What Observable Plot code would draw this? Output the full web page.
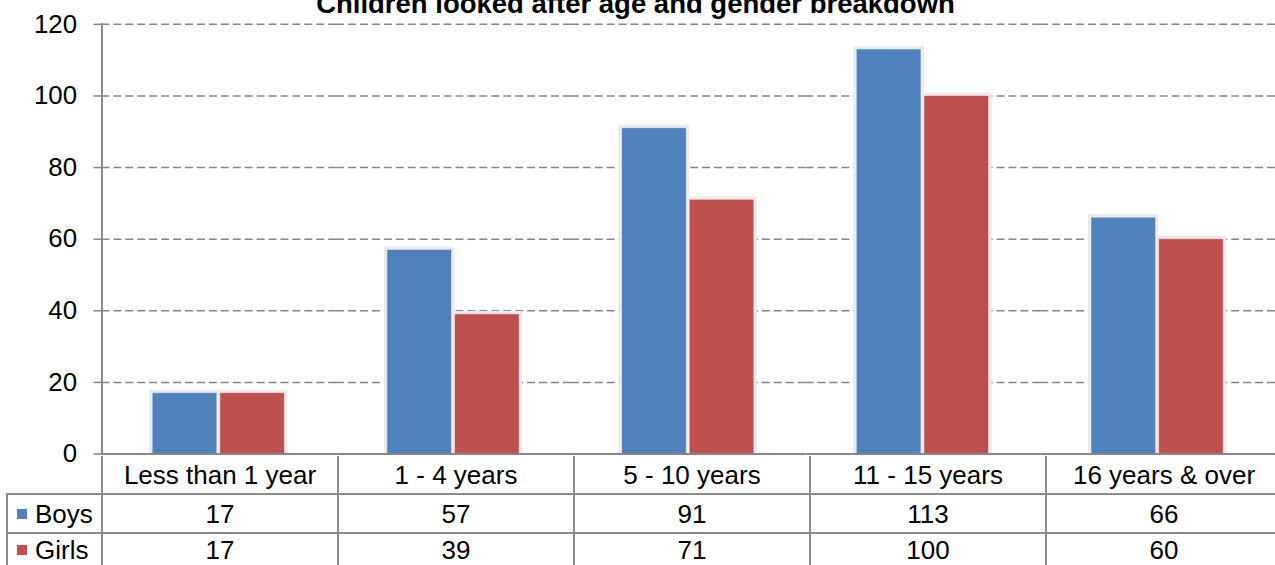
<!DOCTYPE html>
<html>
<head>
<meta charset="utf-8">
<script src="https://cdn.jsdelivr.net/npm/d3@7"></script>
<script src="https://cdn.jsdelivr.net/npm/@observablehq/plot@0.6"></script>
<style>
  html, body { margin: 0; padding: 0; background: #fff; overflow: hidden; }
  #wrap { position: relative; width: 1275px; height: 565px; overflow: hidden; background: #fff;
          font-family: "Liberation Sans", Arial, sans-serif; color: #000; }
  #title { position: absolute; left: 0; width: 1271px; top: -10px; text-align: center;
           font-weight: bold; font-size: 27.5px; line-height: 28px; white-space: nowrap; }
  #chart { position: absolute; left: 0; top: 0; }
  .cell { position: absolute; display: flex; align-items: center; justify-content: center;
          font-size: 26px; line-height: 28px; white-space: nowrap; }
  .ln { position: absolute; background: #8c8c8c; }
</style>
</head>
<body>
<div id="wrap">
  <div id="chart"></div>
  <div id="title">Children looked after age and gender breakdown</div>
  <div id="table"></div>
</div>
<script>
const title = "Children looked after age and gender breakdown";
const categories = ["Less than 1 year", "1 - 4 years", "5 - 10 years", "11 - 15 years", "16 years & over"];
const seriesNames = ["Boys", "Girls"];
const boys = [17, 57, 91, 113, 66];
const girls = [17, 39, 71, 100, 60];
const seriesColors = ["#4F81BD", "#C0504D"];
const yTicks = [0, 20, 40, 60, 80, 100, 120];

const seriesValues = [boys, girls];
const data = [];
categories.forEach((c, i) => seriesNames.forEach((s, j) => data.push({category: c, series: s, value: seriesValues[j][i]})));

const chart = Plot.plot({
  width: 1282,
  height: 458,
  marginLeft: 102,
  marginRight: 0,
  marginTop: 24,
  marginBottom: 2,
  style: {fontFamily: "'Liberation Sans', Arial, sans-serif", fontSize: "26px", color: "#000", background: "#fff", overflow: "visible"},
  fx: {domain: categories, padding: 0, axis: null, label: null},
  x: {domain: seriesNames, paddingInner: 0.044, paddingOuter: 0.757, axis: null, label: null},
  y: {domain: [0, 120], label: null},
  color: {domain: seriesNames, range: seriesColors},
  marks: [
    Plot.gridY(yTicks.filter(t => t > 0), {stroke: "#868686", strokeOpacity: 1, strokeWidth: 1.5, strokeDasharray: "8,4"}),
    Plot.barY(data, {fx: "category", x: "series", y: "value", fill: "#ebebeb", insetLeft: -3, insetRight: -3, insetTop: -3}),
    Plot.barY(data, {fx: "category", x: "series", y: "value", fill: "series", stroke: "#ffffff", strokeOpacity: 0.5, strokeWidth: 1}),
    Plot.ruleY([0], {stroke: "#868686", strokeWidth: 2}),
    Plot.frame({anchor: "left", facetAnchor: "left", stroke: "#868686", strokeWidth: 2}),
    Plot.axisY({ticks: yTicks, tickSize: 8, tickPadding: 17, stroke: "#868686", strokeWidth: 1.5, fontSize: 26, label: null})
  ]
});
document.getElementById("chart").appendChild(chart);

// Data table below the chart (column positions follow the fx scale)
const fx = chart.scale("fx");
const tbl = document.getElementById("table");
const tableLeft = 7;
const rowTops = [456, 494, 533, 566];
const colEdges = categories.map(c => fx.apply(c)).concat([fx.apply(categories[categories.length - 1]) + fx.bandwidth]);
function addCell(text, left, top, w, h, extra) {
  const d = document.createElement("div");
  d.className = "cell";
  d.style.left = left + "px"; d.style.top = top + "px";
  d.style.width = w + "px"; d.style.height = h + "px";
  if (extra) extra(d);
  if (text !== null) d.appendChild(document.createTextNode(text));
  tbl.appendChild(d);
  return d;
}
function addLine(left, top, w, h) {
  const d = document.createElement("div");
  d.className = "ln";
  d.style.left = left + "px"; d.style.top = top + "px";
  d.style.width = w + "px"; d.style.height = h + "px";
  tbl.appendChild(d);
}
// header labels
categories.forEach((c, i) => addCell(c, colEdges[i], rowTops[0], colEdges[i + 1] - colEdges[i], rowTops[1] - rowTops[0]));
// series rows
seriesNames.forEach((s, j) => {
  const top = rowTops[j + 1], h = rowTops[j + 2] - rowTops[j + 1];
  addCell(null, tableLeft, top, colEdges[0] - tableLeft, h, d => {
    d.style.justifyContent = "flex-start";
    const sw = document.createElement("span");
    sw.style.cssText = `display:inline-block;width:10px;height:10px;background:${seriesColors[j]};margin-left:10px;margin-right:8px;`;
    d.appendChild(sw);
    d.appendChild(document.createTextNode(s));
  });
  categories.forEach((c, i) => addCell(String(seriesValues[j][i]), colEdges[i], top, colEdges[i + 1] - colEdges[i], h));
});
// grid lines
addLine(tableLeft, rowTops[1] - 1, colEdges[colEdges.length - 1] - tableLeft, 2);
addLine(tableLeft, rowTops[2] - 1, colEdges[colEdges.length - 1] - tableLeft, 2);
addLine(tableLeft - 1, rowTops[1] - 1, 2, 100);
colEdges.forEach(x => addLine(x - 1, rowTops[0], 2, 120));
</script>
</body>
</html>
